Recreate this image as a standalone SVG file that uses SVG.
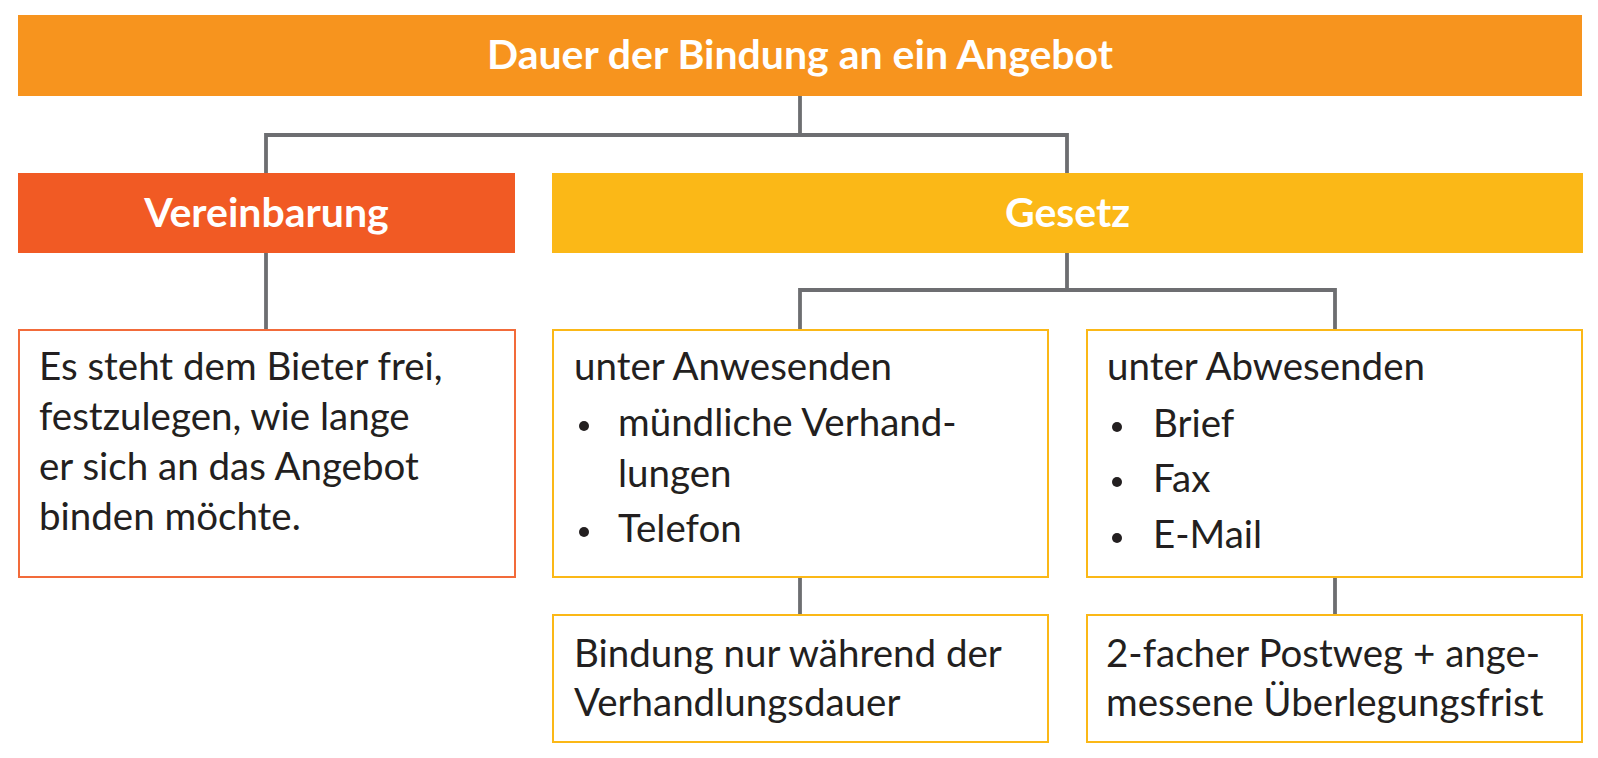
<svg xmlns="http://www.w3.org/2000/svg" width="1598" height="758" viewBox="0 0 1598 758">
<style>
.hd{font-family:Lato,"Noto Sans",sans-serif;font-weight:700;font-size:41px;fill:#fff;text-anchor:middle}
.tx{font-family:Lato,"Noto Sans",sans-serif;font-size:38.5px;fill:#231f20}
.con{stroke:#6d6e71;stroke-width:3.8;fill:none}
.ybox{fill:#fff;stroke:#fbb817;stroke-width:2}
.bul{fill:#231f20}
</style>
<rect width="1598" height="758" fill="#fff"/>
<g id="connectors">
<path class="con" d="M800 96V135M266 253V135H1067V173"/>
<path class="con" d="M266 253V330"/>
<path class="con" d="M1067 253V290M800 330V290H1335V330"/>
<path class="con" d="M800 577V615M1335 577V615"/>
</g>
<g id="root">
<rect x="18" y="15" width="1564" height="81" fill="#f7941e"/>
<text class="hd" x="800" y="69">Dauer der Bindung an ein Angebot</text>
</g>
<g id="vereinbarung">
<rect x="18" y="173" width="497" height="80" fill="#f15a24"/>
<text class="hd" x="266.5" y="227">Vereinbarung</text>
</g>
<g id="gesetz">
<rect x="552" y="173" width="1031" height="80" fill="#fbb817"/>
<text class="hd" x="1067.5" y="227">Gesetz</text>
</g>
<g id="bieter">
<rect x="19" y="330" width="496" height="247" fill="#fff" stroke="#f26b3a" stroke-width="2"/>
<text class="tx" x="39" y="380">Es steht dem Bieter frei,</text>
<text class="tx" x="39" y="430">festzulegen, wie lange</text>
<text class="tx" x="39" y="480">er sich an das Angebot</text>
<text class="tx" x="39" y="530">binden möchte.</text>
</g>
<g id="anwesenden">
<rect class="ybox" x="553" y="330" width="495" height="247"/>
<text class="tx" x="574" y="380">unter Anwesenden</text>
<circle class="bul" cx="584" cy="426" r="5"/>
<text class="tx" x="618" y="436">mündliche Verhand-</text>
<text class="tx" x="618" y="487">lungen</text>
<circle class="bul" cx="584" cy="532" r="5"/>
<text class="tx" x="618" y="542">Telefon</text>
</g>
<g id="abwesenden">
<rect class="ybox" x="1087" y="330" width="495" height="247"/>
<text class="tx" x="1107" y="380">unter Abwesenden</text>
<circle class="bul" cx="1117" cy="427" r="5"/>
<text class="tx" x="1153" y="437">Brief</text>
<circle class="bul" cx="1117" cy="482" r="5"/>
<text class="tx" x="1153" y="492">Fax</text>
<circle class="bul" cx="1117" cy="538" r="5"/>
<text class="tx" x="1153" y="548">E-Mail</text>
</g>
<g id="verhandlungsdauer">
<rect class="ybox" x="553" y="615" width="495" height="127"/>
<text class="tx" x="574" y="667">Bindung nur während der</text>
<text class="tx" x="574" y="716">Verhandlungsdauer</text>
</g>
<g id="postweg">
<rect class="ybox" x="1087" y="615" width="495" height="127"/>
<text class="tx" x="1106" y="667">2-facher Postweg + ange-</text>
<text class="tx" x="1106" y="716">messene Überlegungsfrist</text>
</g>
</svg>
